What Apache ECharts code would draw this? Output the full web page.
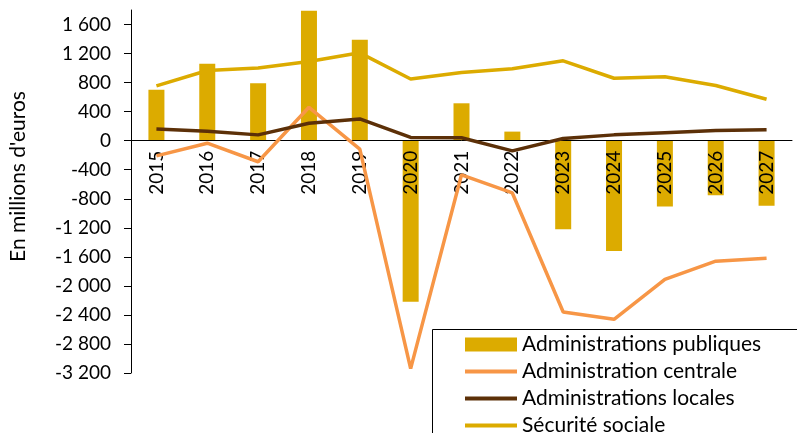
<!DOCTYPE html>
<html>
<head>
<meta charset="utf-8">
<script src="https://cdn.jsdelivr.net/npm/echarts@6/dist/echarts.min.js"></script>
<style>
    html, body { margin: 0; padding: 0; background: #fff; }
    #chart { width: 797px; height: 433px; }
</style>
</head>
<body>
<div id="chart"></div>
<script>
// données (millions d'euros)
var years = ['2015', '2016', '2017', '2018', '2019', '2020', '2021', '2022', '2023', '2024', '2025', '2026', '2027']
var adminPubliques = [700, 1060, 790, 1790, 1390, -2220, 515, 125, -1220, -1520, -905, -750, -895]
var adminCentrale = [-210, -35, -290, 460, -115, -3140, -470, -720, -2360, -2460, -1910, -1660, -1620]
var adminLocales = [160, 130, 80, 240, 300, 45, 40, -140, 30, 80, 110, 140, 150]
var securiteSociale = [755, 966, 1000, 1090, 1210, 850, 940, 990, 1100, 860, 880, 760, 570]
var yTicks = [-3200, -2800, -2400, -2000, -1600, -1200, -800, -400, 0, 400, 800, 1200, 1600]

var yMin = -3200
var yMax = 1800
var gridTop = 10
var gridBottom = 60
var chartH = 433

var gold = '#dcab00'
var orange = '#f79646'
var brown = '#5c3008'
var font = 'Lato'
var lineIcon = 'path://M0,0L52,0L52,4L0,4Z'

function fmt(v) {
    var s = String(Math.abs(v)).replace(/\B(?=(\d{3})+(?!\d))/g, ' ')
    return (v < 0 ? '-' : '') + s
}

// l'axe des abscisses passe par zéro (étiquettes comprises)
var plotH = chartH - gridTop - gridBottom
var zeroOffset = -plotH * (0 - yMin) / (yMax - yMin)

var myChart = echarts.init(document.getElementById('chart'))
var option = {
    animation: false,
    textStyle: { fontFamily: font, color: '#000' },
    grid: { left: 128, right: 5, top: gridTop, bottom: gridBottom },
    graphic: [{
        type: 'rect',
        z: 50,
        shape: { x: 432.5, y: 329.5, width: 400, height: 200 },
        style: { fill: '#fff', stroke: '#000', lineWidth: 1 }
    }],
    legend: {
        orient: 'vertical',
        left: 465,
        top: 334,
        width: 330,
        height: 200,
        padding: 0,
        z: 60,
        itemWidth: 52,
        itemHeight: 14,
        itemGap: 6,
        textStyle: { fontFamily: font, fontSize: 21, color: '#000', lineHeight: 20 },
        data: [
            { name: 'Administrations publiques', icon: 'rect' },
            { name: 'Administration centrale', icon: lineIcon },
            { name: 'Administrations locales', icon: lineIcon },
            { name: 'Sécurité sociale', icon: lineIcon }
        ]
    },
    xAxis: {
        type: 'category',
        data: years,
        z: 10,
        offset: zeroOffset,
        axisLine: { onZero: false, lineStyle: { color: '#000', width: 1 } },
        axisTick: { alignWithLabel: true, length: 6, lineStyle: { color: '#000' } },
        axisLabel: { rotate: 90, margin: 10, fontSize: 19, color: '#000', fontFamily: font }
    },
    yAxis: {
        type: 'value',
        min: yMin,
        max: yMax,
        interval: 400,
        name: "En millions d'euros",
        nameLocation: 'middle',
        nameGap: 102,
        nameTextStyle: { fontSize: 21, color: '#000', fontFamily: font, padding: [0, 0, 0, 30] },
        axisLine: { show: true, lineStyle: { color: '#000', width: 1 } },
        axisTick: { show: true, length: 7, lineStyle: { color: '#000' }, customValues: yTicks },
        axisLabel: { margin: 20, fontSize: 19, color: '#000', fontFamily: font, customValues: yTicks, formatter: fmt },
        splitLine: { show: false }
    },
    series: [
        {
            name: 'Administrations publiques',
            type: 'bar',
            barWidth: 16,
            itemStyle: { color: gold },
            data: adminPubliques
        },
        {
            name: 'Administration centrale',
            type: 'line',
            symbol: 'none',
            z: 12,
            lineStyle: { color: orange, width: 3.5 },
            itemStyle: { color: orange },
            data: adminCentrale
        },
        {
            name: 'Administrations locales',
            type: 'line',
            symbol: 'none',
            z: 12,
            lineStyle: { color: brown, width: 3.5 },
            itemStyle: { color: brown },
            data: adminLocales
        },
        {
            name: 'Sécurité sociale',
            type: 'line',
            symbol: 'none',
            z: 12,
            lineStyle: { color: gold, width: 3.5 },
            itemStyle: { color: gold },
            data: securiteSociale
        }
    ]
}
myChart.setOption(option)

window.addEventListener('resize', function() {
    myChart.resize()
})
</script>
</body>
</html>
